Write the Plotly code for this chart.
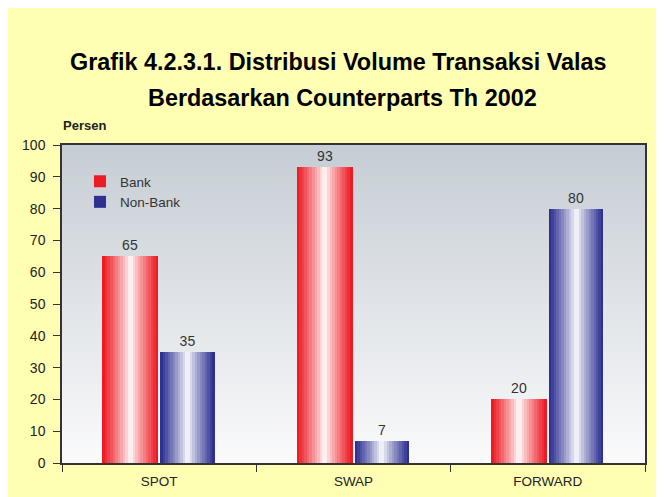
import plotly.graph_objects as go

categories = ["SPOT", "SWAP", "FORWARD"]
bank = [65, 93, 20]
non_bank = [35, 7, 80]
series_names = ["Bank", "Non-Bank"]
title_line1 = "Grafik 4.2.3.1. Distribusi Volume Transaksi Valas"
title_line2 = "Berdasarkan Counterparts Th 2002"
y_label = "Persen"

FONT = "Arial, Liberation Sans, sans-serif"
RED = (237, 28, 36)
BLUE = (46, 49, 146)

OFF = 8  # page body margin
W, H = 664, 497
L, T = 62 - OFF, 145 - OFF
R = W - (645 - OFF)
B = H - (463 - OFF)
PW, PH = W - L - R, H - T - B


def px2x(px):
    return (px - OFF - L) / PW


def px2y(py):
    return (H - B - (py - OFF)) / PH


def mix(c, t):
    return "rgb(%d,%d,%d)" % tuple(round(255 + (ci - 255) * t) for ci in c)


fig = go.Figure()

N = 22
series = [(series_names[0], bank, RED, -0.292, 0.287),
          (series_names[1], non_bank, BLUE, 0.006, 0.28)]

for name, vals, col, start, width in series:
    step = width / N
    for k in range(N):
        t = abs((k + 0.5) / N - 0.5) * 2
        t = min(1.0, t ** 0.85 * 1.04)
        fig.add_trace(go.Bar(
            x=categories, y=vals, name=name,
            width=step * 1.08 if k < N - 1 else step,
            offset=start + k * step,
            marker=dict(color=mix(col, t), line=dict(width=0)),
            showlegend=(k == 0), legendgroup=name,
            hoverinfo="skip",
        ))
    fig.add_trace(go.Bar(
        x=categories, y=vals, name=name, width=width, offset=start,
        marker=dict(color="rgba(0,0,0,0)", line=dict(width=0)),
        text=[str(v) for v in vals], textposition="outside",
        textfont=dict(family=FONT, size=14, color="#333333"),
        constraintext="none", cliponaxis=False, showlegend=False,
        legendgroup=name,
    ))

shapes = []
NG = 40
top = (198, 205, 212)
bot = (250, 250, 251)
for i in range(NG):
    f = i / (NG - 1)
    c = tuple(round(bot[j] + (top[j] - bot[j]) * f) for j in range(3))
    shapes.append(dict(type="rect", xref="x domain", yref="y domain",
                       x0=0, x1=1, y0=i / NG, y1=(i + 1) / NG + 0.002,
                       fillcolor="rgb(%d,%d,%d)" % c, line=dict(width=0),
                       layer="below"))

annotations = [
    dict(text="<b>%s</b>" % title_line1, xref="paper", yref="paper",
         x=px2x(338), y=px2y(62), xanchor="center", yanchor="middle",
         showarrow=False, font=dict(family=FONT, size=23.4, color="#000000")),
    dict(text="<b>%s</b>" % title_line2, xref="paper", yref="paper",
         x=px2x(342), y=px2y(98), xanchor="center", yanchor="middle",
         showarrow=False, font=dict(family=FONT, size=23.4, color="#000000")),
    dict(text="<b>%s</b>" % y_label, xref="paper", yref="paper",
         x=px2x(61), y=px2y(125), xanchor="left", yanchor="middle",
         showarrow=False, font=dict(family=FONT, size=13, color="#222222")),
]

fig.update_layout(
    width=W, height=H,
    margin=dict(l=L, r=R, t=T, b=B, pad=0),
    paper_bgcolor="#FFFFB3", plot_bgcolor="rgba(0,0,0,0)",
    barmode="overlay", bargap=0,
    shapes=shapes, annotations=annotations,
    font=dict(family=FONT, color="#222222"),
    legend=dict(x=px2x(80), y=px2y(166), xanchor="left", yanchor="top",
                bgcolor="rgba(0,0,0,0)",
                font=dict(family=FONT, size=13.5, color="#333333"),
                tracegroupgap=4, traceorder="normal"),
    showlegend=True,
)
fig.update_xaxes(type="category", showline=True, linecolor="#333333", linewidth=1.5,
                 mirror=True, ticks="outside", ticklen=7, tickcolor="#333333",
                 tickson="boundaries", showgrid=False, ticklabelstandoff=5,
                 tickfont=dict(family=FONT, size=13.5, color="#222222"))
fig.update_yaxes(range=[0, 100], dtick=10, showline=True, linecolor="#333333",
                 linewidth=1.5, mirror=True, ticks="outside", ticklen=7,
                 tickcolor="#333333", showgrid=False, zeroline=False,
                 ticklabelstandoff=5,
                 tickfont=dict(family=FONT, size=14, color="#222222"))

fig.write_html("out.html")
